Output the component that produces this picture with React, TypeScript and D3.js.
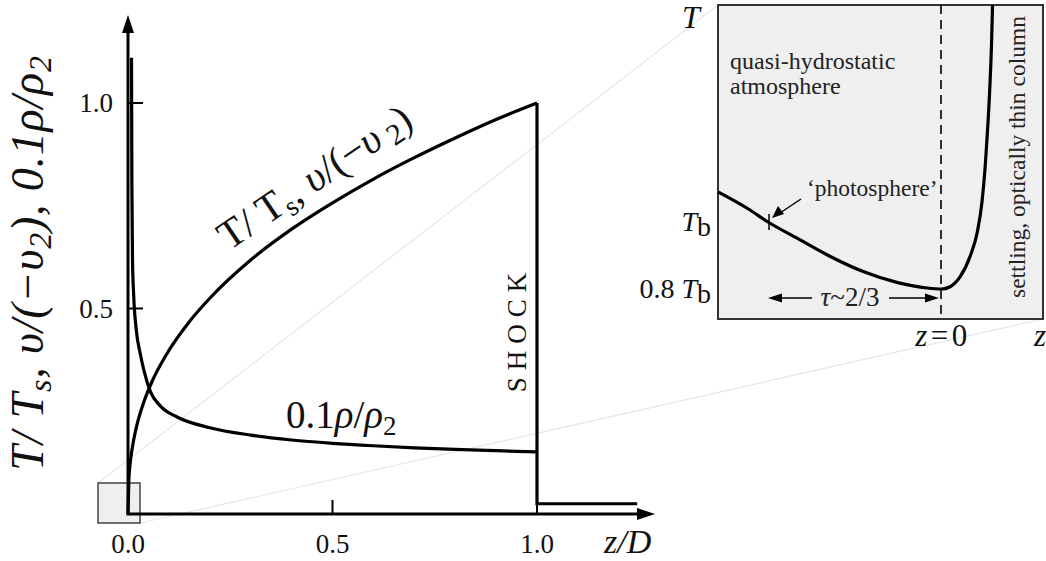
import React from 'react';
import * as d3 from 'd3';

const W = 1046;
const H = 561;

// Post-shock profiles versus height z/D above the surface
const zTemp = [0, 0.002, 0.005, 0.01, 0.02, 0.04, 0.06, 0.1, 0.15, 0.2, 0.3, 0.4, 0.5, 0.6, 0.7, 0.8, 0.9, 1.0];
const tempVel = [0, 0.08, 0.12, 0.158, 0.209, 0.276, 0.325, 0.398, 0.468, 0.525, 0.618, 0.693, 0.757, 0.815, 0.867, 0.915, 0.96, 1.0];

const zRho = [0.0086, 0.0095, 0.011, 0.014, 0.02, 0.03, 0.04, 0.055, 0.08, 0.12, 0.2, 0.3, 0.4, 0.5, 0.6, 0.7, 0.8, 0.9, 1.0];
const rhoScaled = [1.11, 0.8, 0.62, 0.53, 0.45, 0.39, 0.345, 0.297, 0.262, 0.236, 0.21, 0.192, 0.18, 0.172, 0.166, 0.161, 0.157, 0.154, 0.151];

// Pre-shock (infalling) segment beyond the shock
const shockZ = 1.0;
const preShockLevel = 0.025;
const preShockEnd = 1.245;

const xTicks = [0, 0.5, 1.0];
const xTickLabels = ['0.0', '0.5', '1.0'];
const yTicks = [0.5, 1.0];
const yTickLabels = ['0.5', '1.0'];

// Bottom of the column: T against z (units of the photospheric depth)
const zInset = [-1.289, -1.12, -1.0, -0.83, -0.64, -0.45, -0.25, -0.08, 0.005, 0.05, 0.11, 0.17, 0.21, 0.237, 0.256, 0.271, 0.283, 0.292, 0.298];
const tInset = [1.09, 1.041, 1.0, 0.951, 0.897, 0.852, 0.819, 0.803, 0.8, 0.806, 0.836, 0.9, 0.97, 1.06, 1.17, 1.29, 1.41, 1.53, 1.648];
const photosphereZ = -1.0;
const photosphereT = 1.0;
const insetTicksT = [1.0, 0.8];

const serif = "'Liberation Serif', 'Times New Roman', Times, serif";

export default function App() {
  // main panel scales
  const x = d3.scaleLinear().domain([0, 1]).range([128, 537]);
  const y = d3.scaleLinear().domain([0, 1]).range([514, 103]);

  // inset scales
  const ix = d3.scaleLinear().domain([-1, 0]).range([768, 941]);
  const iy = d3.scaleLinear().domain([0.8, 1.0]).range([289, 222]);

  const tempLine = d3
    .line<number>()
    .x((_, i) => x(zTemp[i]))
    .y((d) => y(d))
    .curve(d3.curveMonotoneX);

  const rhoLine = d3
    .line<number>()
    .x((_, i) => x(zRho[i]))
    .y((d) => y(d))
    .curve(d3.curveMonotoneX);

  const insetLine = d3
    .line<number>()
    .x((_, i) => ix(zInset[i]))
    .y((d) => iy(d))
    .curve(d3.curveMonotoneX);

  const shockPath = d3.line()([
    [x(shockZ), y(tempVel[tempVel.length - 1])],
    [x(shockZ), y(preShockLevel)],
    [x(preShockEnd), y(preShockLevel)],
  ]);

  // inset frame
  const box = { x0: 718, y0: 5, x1: 1043, y1: 319 };
  // small region box at origin of main panel
  const sb = { x0: 98, y0: 483, x1: 140, y1: 523 };

  const x0 = x(0);
  const y0 = y(0);
  const yTop = 15;
  const xEnd = 655;

  const px = ix(photosphereZ);
  const py = iy(photosphereT);
  const zeroX = ix(0);

  return (
    <svg
      width={W}
      height={H}
      viewBox={`0 0 ${W} ${H}`}
      style={{ position: 'absolute', left: 0, top: 0, background: '#fff', fontFamily: serif }}
    >
      {/* guide lines from zoom box to inset */}
      <line x1={sb.x0} y1={sb.y0} x2={box.x0} y2={box.y0} stroke="#e6e6e6" strokeWidth={1.2} />
      <line x1={sb.x1} y1={sb.y1} x2={box.x1} y2={box.y1} stroke="#e6e6e6" strokeWidth={1.2} />

      {/* small zoom box */}
      <rect x={sb.x0} y={sb.y0} width={sb.x1 - sb.x0} height={sb.y1 - sb.y0} fill="#efefef" stroke="#444" strokeWidth={1.5} />

      {/* axes */}
      <line x1={x0} y1={y0} x2={x0} y2={yTop + 16} stroke="#000" strokeWidth={3} />
      <polygon points={`${x0},${yTop} ${x0 - 6},${yTop + 18} ${x0 + 6},${yTop + 18}`} fill="#000" />
      <line x1={x0 - 1.5} y1={y0} x2={xEnd - 16} y2={y0} stroke="#000" strokeWidth={3} />
      <polygon points={`${xEnd},${y0} ${xEnd - 18},${y0 - 6} ${xEnd - 18},${y0 + 6}`} fill="#000" />

      {/* ticks */}
      {xTicks.map((t, i) => (
        <g key={`xt${i}`}>
          {t > 0 && <line x1={x(t)} y1={y0} x2={x(t)} y2={y0 - 14} stroke="#000" strokeWidth={2} />}
          <text x={x(t)} y={553} fontSize={27} textAnchor="middle" fill="#111">
            {xTickLabels[i]}
          </text>
        </g>
      ))}
      {yTicks.map((t, i) => (
        <g key={`yt${i}`}>
          <line x1={x0} y1={y(t)} x2={x0 + 15} y2={y(t)} stroke="#000" strokeWidth={2} />
          <text x={113} y={y(t) + 9} fontSize={27} textAnchor="end" fill="#111">
            {yTickLabels[i]}
          </text>
        </g>
      ))}
      <text x={604} y={553} fontSize={34} fontStyle="italic" fill="#111">
        z/D
      </text>

      {/* y axis title */}
      <text
        transform="translate(43,263) rotate(-90)"
        fontSize={46}
        fontStyle="italic"
        textAnchor="middle"
        letterSpacing={0.8}
        fill="#111"
      >
        T/ T<tspan fontSize={32} dy={8}>s</tspan>
        <tspan dy={-8}>, υ/(−υ</tspan>
        <tspan fontSize={32} dy={8}>2</tspan>
        <tspan dy={-8}>), 0.1ρ/ρ</tspan>
        <tspan fontSize={32} dy={8}>2</tspan>
      </text>

      {/* profiles */}
      <path d={tempLine(tempVel) || ''} fill="none" stroke="#000" strokeWidth={3.2} />
      <path d={rhoLine(rhoScaled) || ''} fill="none" stroke="#000" strokeWidth={3.2} />
      <path d={shockPath || ''} fill="none" stroke="#000" strokeWidth={3.2} />

      {/* curve labels */}
      <text transform="translate(229,251) rotate(-34)" fontSize={41} fill="#111">
        T/ T<tspan fontSize={28} dy={7}>s</tspan>
        <tspan dy={-7}>, </tspan>
        <tspan fontStyle="italic">υ</tspan>/(−<tspan fontStyle="italic">υ</tspan>
        <tspan fontSize={30} dy={6}> 2</tspan>
        <tspan dy={-6}>)</tspan>
      </text>
      <text x={286} y={428} fontSize={39} fill="#111">
        0.1<tspan fontStyle="italic">ρ</tspan>/<tspan fontStyle="italic">ρ</tspan>
        <tspan fontSize={27} dy={7}>2</tspan>
      </text>
      <text
        transform="translate(526,329) rotate(-90)"
        fontSize={27}
        letterSpacing={7}
        textAnchor="middle"
        fill="#111"
      >
        SHOCK
      </text>

      {/* inset */}
      <rect x={box.x0} y={box.y0} width={box.x1 - box.x0} height={box.y1 - box.y0} fill="#efefef" stroke="#333" strokeWidth={2} />
      <line x1={zeroX} y1={box.y0} x2={zeroX} y2={box.y1} stroke="#000" strokeWidth={1.6} strokeDasharray="9,6" />
      <path d={insetLine(tInset) || ''} fill="none" stroke="#000" strokeWidth={3.2} />
      <line x1={px + 1} y1={py - 8} x2={px + 1} y2={py + 8} stroke="#000" strokeWidth={1.5} />

      <text x={730} y={69} fontSize={24} fill="#222">quasi-hydrostatic</text>
      <text x={730} y={94} fontSize={24} fill="#222">atmosphere</text>
      <text x={807} y={196} fontSize={23.5} fill="#222">‘photosphere’</text>
      <line x1={801} y1={199} x2={780} y2={213} stroke="#000" strokeWidth={1.5} />
      <polygon points={`${px + 4},${py - 4} ${px + 10},${py - 16} ${px + 16},${py - 8}`} fill="#000" />

      <text x={850} y={306} fontSize={27} textAnchor="middle" fill="#222">
        <tspan fontStyle="italic">τ</tspan>~2/3
      </text>
      <line x1={812} y1={298} x2={780} y2={298} stroke="#000" strokeWidth={1.5} />
      <polygon points={`${px},298 ${px + 14},293.5 ${px + 14},302.5`} fill="#000" />
      <line x1={889} y1={298} x2={zeroX - 12} y2={298} stroke="#000" strokeWidth={1.5} />
      <polygon points={`${zeroX - 2},298 ${zeroX - 16},293.5 ${zeroX - 16},302.5`} fill="#000" />

      <text
        transform="translate(1025,157) rotate(-90)"
        fontSize={23.5}
        textAnchor="middle"
        fill="#222"
      >
        settling, optically thin column
      </text>

      {/* inset axis labels */}
      <text x={682} y={28} fontSize={32} fontStyle="italic" fill="#111">T</text>
      {insetTicksT.map((t, i) => (
        <text key={`it${i}`} x={711} y={iy(t) + 9} fontSize={28} textAnchor="end" fill="#111">
          {t === 1 ? '' : '0.8 '}
          <tspan fontStyle="italic">T</tspan>
          <tspan dy={5}>b</tspan>
        </text>
      ))}
      <text x={zeroX + 2} y={346} fontSize={31} textAnchor="middle" letterSpacing={3.5} fill="#111">
        <tspan fontStyle="italic">z</tspan>=0
      </text>
      <text x={1034} y={346} fontSize={31} fontStyle="italic" fill="#111">z</text>
    </svg>
  );
}
